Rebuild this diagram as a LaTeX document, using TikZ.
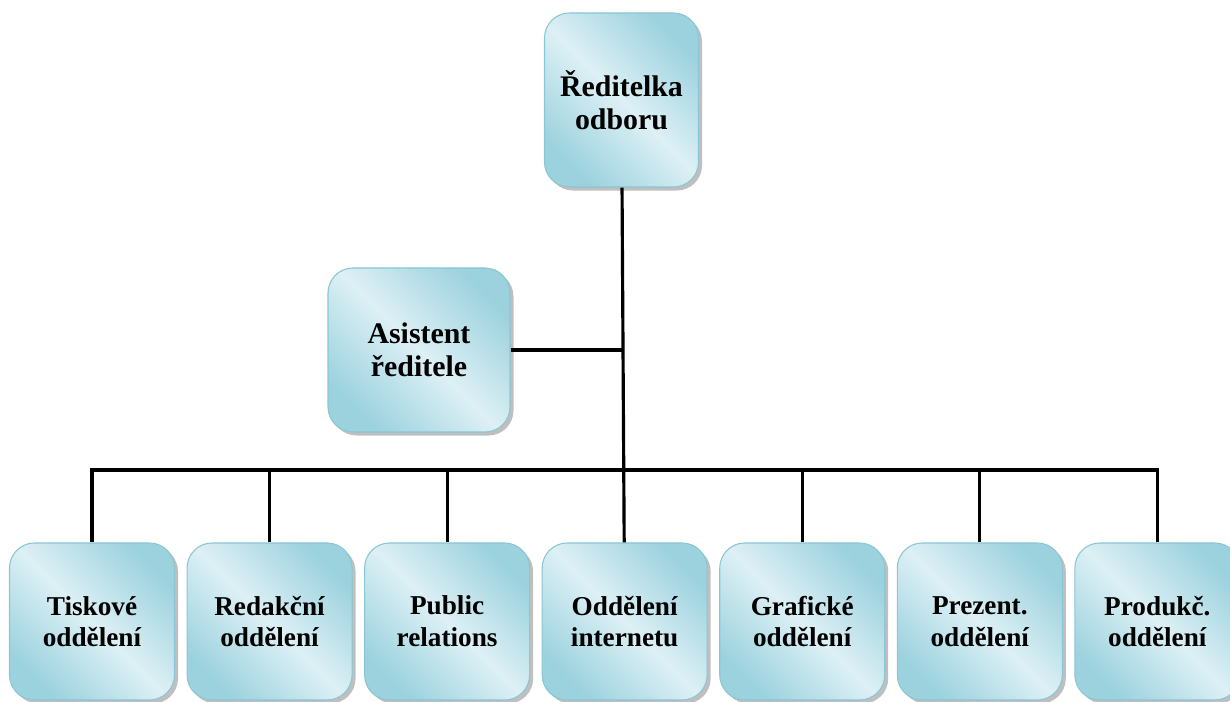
\documentclass[tikz,border=0pt]{standalone}
\usepackage{fontspec}
\setmainfont{Liberation Serif}
\usetikzlibrary{positioning,shadows}
\definecolor{boxlight}{HTML}{DDF0F5}
\definecolor{boxdark}{HTML}{9CD2DE}
\definecolor{boxline}{HTML}{8AC6D4}
\tikzset{
 orgbox/.style={draw=boxline,line width=0.6pt,rounded corners=0.5cm,align=center,
             left color=boxdark,right color=boxdark,middle color=boxlight,shading angle=-45,
             drop shadow={shadow xshift=2pt,shadow yshift=-2pt,fill=black!50},
             font=\fontsize{15.5}{18}\selectfont\bfseries,inner sep=2pt},
 headbox/.style={orgbox,minimum width=3.08cm,minimum height=3.48cm,
             font=\fontsize{17}{19}\selectfont\bfseries},
 asbox/.style={orgbox,minimum width=3.64cm,minimum height=3.28cm,
             font=\fontsize{17}{19}\selectfont\bfseries},
 deptbox/.style={orgbox,minimum width=3.3cm,minimum height=3.14cm},
 link/.style={line width=1.8pt}
}

\begin{document}
\begin{tikzpicture}[node distance=0.23cm]
\useasboundingbox (0,0) rectangle (24.6,14.04);
\node[deptbox] (tisk) at (1.84,1.61) {Tiskové\\oddělení};
\node[deptbox,right=of tisk] (redak) {Redakční\\oddělení};
\node[deptbox,right=of redak] (pr) {Public\\relations};
\node[deptbox,right=of pr] (internet) {Oddělení\\internetu};
\node[deptbox,right=of internet] (grafik) {Grafické\\oddělení};
\node[deptbox,right=of grafik] (prezent) {Prezent.\\oddělení};
\node[deptbox,right=of prezent] (produkc) {Produkč.\\oddělení};
\node[headbox] (reditelka) at (12.43,12.04) {Ředitelka\\odboru};
\node[asbox] (asistent) at (8.38,7.04) {Asistent\\ředitele};
\coordinate (bus) at (12.43,4.64);
\draw[link] (reditelka) -- (internet);
\draw[link] (asistent) -- (asistent -| reditelka);
\draw[link,line cap=rect] (tisk |- bus) -- (produkc |- bus);
\foreach \d in {tisk,redak,pr,grafik,prezent,produkc}
  \draw[link] (\d) -- (\d |- bus);
\end{tikzpicture}
\end{document}
